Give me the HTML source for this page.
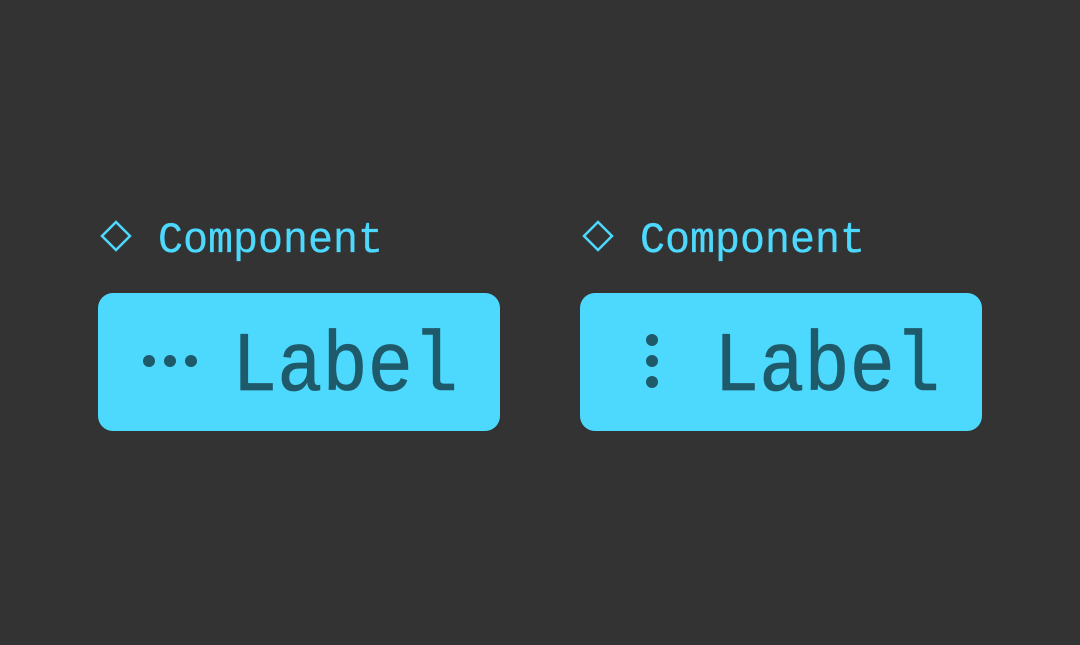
<!DOCTYPE html>
<html><head><style>
body{margin:0;width:1080px;height:640px;background:#333333;overflow:hidden;}
</style></head><body>
<svg width="1080" height="640" xmlns="http://www.w3.org/2000/svg">
<rect width="1080" height="640" fill="#333333"/>
<g fill="none" stroke="#4dd9fd" stroke-width="2.5">
<path d="M116 222 L130 236 L116 250 L102 236 Z"/>
<path d="M598 222 L612 236 L598 250 L584 236 Z"/>
</g>
<g font-family="Liberation Mono, DejaVu Sans Mono, monospace" fill="#4dd9fd" stroke="#4dd9fd" stroke-width="0.3" font-size="44">
<text x="158" y="252" textLength="225" lengthAdjust="spacingAndGlyphs">Component</text>
<text x="640" y="252" textLength="225" lengthAdjust="spacingAndGlyphs">Component</text>
</g>
<rect x="98" y="293" width="402" height="138" rx="15" fill="#4dd9fd"/>
<rect x="580" y="293" width="402" height="138" rx="15" fill="#4dd9fd"/>
<g fill="#1f5a6a">
<circle cx="149" cy="361" r="6"/><circle cx="170" cy="361" r="6"/><circle cx="191" cy="361" r="6"/>
<circle cx="652" cy="340" r="6"/><circle cx="652" cy="361" r="6"/><circle cx="652" cy="382" r="6"/>
</g>
<g font-family="Liberation Mono, DejaVu Sans Mono, monospace" fill="#1f5a6a" stroke="#1f5a6a" stroke-width="0.8" font-size="84">
<text x="232" y="390" textLength="226" lengthAdjust="spacingAndGlyphs">Label</text>
<text x="714" y="390" textLength="226" lengthAdjust="spacingAndGlyphs">Label</text>
</g>
</svg>
</body></html>
